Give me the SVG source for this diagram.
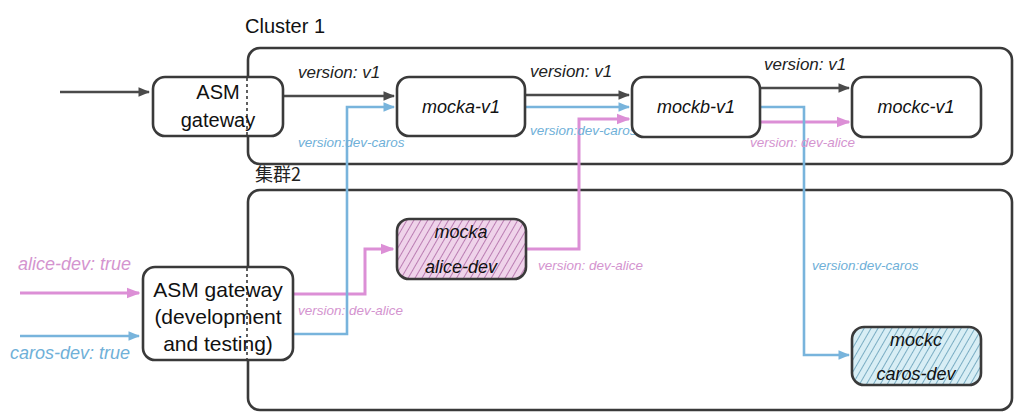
<svg xmlns="http://www.w3.org/2000/svg" width="1024" height="416" viewBox="0 0 1024 416">
<style>
.box{fill:#fff;stroke:#3a3a3a;stroke-width:2.6}
.cl{fill:none;stroke:#3a3a3a;stroke-width:2.6}
.t{font-family:"Liberation Sans",Arial,sans-serif;fill:#111}
.n{font-family:"Liberation Sans",Arial,sans-serif;font-style:italic;font-size:18px;fill:#111}
.lab{font-family:"Liberation Sans",Arial,sans-serif;font-style:italic;font-size:17px;fill:#222}
.lp{font-family:"Liberation Sans",Arial,sans-serif;font-style:italic;font-size:13.5px;fill:#d494cf}
.lb{font-family:"Liberation Sans",Arial,sans-serif;font-style:italic;font-size:13.5px;fill:#6fb0d8}
.big{font-family:"Liberation Sans",Arial,sans-serif;font-style:italic;font-size:18px}
.dk{fill:none;stroke:#4a4a4a;stroke-width:2.6}
.pk{fill:none;stroke:#dc8fd6;stroke-width:3}
.bl{fill:none;stroke:#78b4dc;stroke-width:2.6}
.dash{stroke:#3a3a3a;stroke-width:1.6;stroke-dasharray:3 3}
</style>
<defs>
<marker id="ad" viewBox="0 0 10 10" refX="9" refY="5" markerWidth="4.5" markerHeight="4.5" orient="auto" markerUnits="strokeWidth"><path d="M0,1 L10,5 L0,9 z" fill="#4a4a4a"/></marker>
<marker id="ap" viewBox="0 0 10 10" refX="9" refY="5" markerWidth="4.5" markerHeight="4.5" orient="auto" markerUnits="strokeWidth"><path d="M0,1 L10,5 L0,9 z" fill="#dc8fd6"/></marker>
<marker id="ab" viewBox="0 0 10 10" refX="9" refY="5" markerWidth="4.5" markerHeight="4.5" orient="auto" markerUnits="strokeWidth"><path d="M0,1 L10,5 L0,9 z" fill="#78b4dc"/></marker>
<pattern id="hp" width="6" height="6" patternUnits="userSpaceOnUse" patternTransform="rotate(30)">
<rect width="6" height="6" fill="#efd3ea"/><line x1="0" y1="0" x2="0" y2="6" stroke="#a9609f" stroke-width="1.5"/></pattern>
<pattern id="hb" width="6" height="6" patternUnits="userSpaceOnUse" patternTransform="rotate(30)">
<rect width="6" height="6" fill="#d8eef5"/><line x1="0" y1="0" x2="0" y2="6" stroke="#5a97b2" stroke-width="1.5"/></pattern>
</defs>

<g id="cluster1">
<rect class="cl" x="248" y="48" width="764" height="116" rx="12"/>
<text class="t" x="245" y="33" font-size="20">Cluster 1</text>
</g>
<g id="cluster2">
<rect class="cl" x="248" y="190" width="764" height="220" rx="12"/>
<text x="255" y="181" font-family="'Noto Sans CJK SC',sans-serif" font-size="18" fill="#222">集群2</text>
</g>

<g id="connectors">
<line class="dk" x1="60" y1="92" x2="149" y2="92" marker-end="url(#ad)"/>
<line class="dk" x1="284" y1="96" x2="394" y2="96" marker-end="url(#ad)"/>
<line class="dk" x1="526" y1="95" x2="629" y2="95" marker-end="url(#ad)"/>
<line class="dk" x1="761" y1="88" x2="849" y2="88" marker-end="url(#ad)"/>
<line class="pk" x1="20" y1="293" x2="139" y2="293" marker-end="url(#ap)"/>
<line class="bl" x1="20" y1="336" x2="139" y2="336" marker-end="url(#ab)"/>
<polyline class="pk" points="293,294 365,294 365,249 393,249" marker-end="url(#ap)"/>
<polyline class="bl" points="293,334 347,334 347,107 394,107" marker-end="url(#ab)"/>
<polyline class="pk" points="526,249 579,249 579,119 629,119" marker-end="url(#ap)"/>
<line class="bl" x1="526" y1="107" x2="629" y2="107" marker-end="url(#ab)"/>
<line class="pk" x1="761" y1="122" x2="849" y2="122" marker-end="url(#ap)"/>
<polyline class="bl" points="761,107 804,107 804,355 849,355" marker-end="url(#ab)"/>
<text class="lab" x="298" y="78">version: v1</text>
<text class="lab" x="530" y="77">version: v1</text>
<text class="lab" x="764" y="70">version: v1</text>
<text class="lb" x="298" y="147">version:dev-caros</text>
<text class="lb" x="530" y="135">version:dev-caros</text>
<text class="lp" x="750" y="147">version: dev-alice</text>
<text class="lp" x="298" y="315">version: dev-alice</text>
<text class="lp" x="538" y="270">version: dev-alice</text>
<text class="lb" x="812" y="270">version:dev-caros</text>
<text class="big" x="18" y="270" fill="#d494cf">alice-dev: true</text>
<text class="big" x="10" y="359" fill="#6fb0d8">caros-dev: true</text>
</g>

<g id="gateway1">
<rect class="box" x="153" y="77" width="130" height="59" rx="12"/>
<line class="dash" x1="247" y1="78" x2="247" y2="135"/>
<text class="t" x="218" y="99" font-size="20" text-anchor="middle">ASM</text>
<text class="t" x="218" y="127" font-size="20" text-anchor="middle">gateway</text>
</g>
<g id="mocka-v1">
<rect class="box" x="397" y="77" width="128" height="59" rx="12"/>
<text class="n" x="461" y="113" text-anchor="middle">mocka-v1</text>
</g>
<g id="mockb-v1">
<rect class="box" x="632" y="77" width="128" height="60" rx="12"/>
<text class="n" x="696" y="113" text-anchor="middle">mockb-v1</text>
</g>
<g id="mockc-v1">
<rect class="box" x="852" y="77" width="129" height="60" rx="12"/>
<text class="n" x="916" y="113" text-anchor="middle">mockc-v1</text>
</g>
<g id="gateway2">
<rect class="box" x="143" y="267" width="150" height="93" rx="12"/>
<line class="dash" x1="247" y1="268" x2="247" y2="359"/>
<text class="t" x="218" y="297" font-size="21" text-anchor="middle">ASM gateway</text>
<text class="t" x="218" y="324" font-size="21" text-anchor="middle">(development</text>
<text class="t" x="218" y="351" font-size="21" text-anchor="middle">and testing)</text>
</g>
<g id="mocka-alice-dev">
<rect x="397" y="219" width="129" height="60" rx="12" fill="url(#hp)" stroke="#3a3a3a" stroke-width="2.6"/>
<text class="n" x="461" y="238" text-anchor="middle" font-size="16">mocka</text>
<text class="n" x="461" y="273" text-anchor="middle" font-size="16">alice-dev</text>
</g>
<g id="mockc-caros-dev">
<rect x="852" y="327" width="129" height="58" rx="12" fill="url(#hb)" stroke="#3a3a3a" stroke-width="2.6"/>
<text class="n" x="916" y="346" text-anchor="middle" font-size="16">mockc</text>
<text class="n" x="916" y="380" text-anchor="middle" font-size="16">caros-dev</text>
</g>
</svg>
